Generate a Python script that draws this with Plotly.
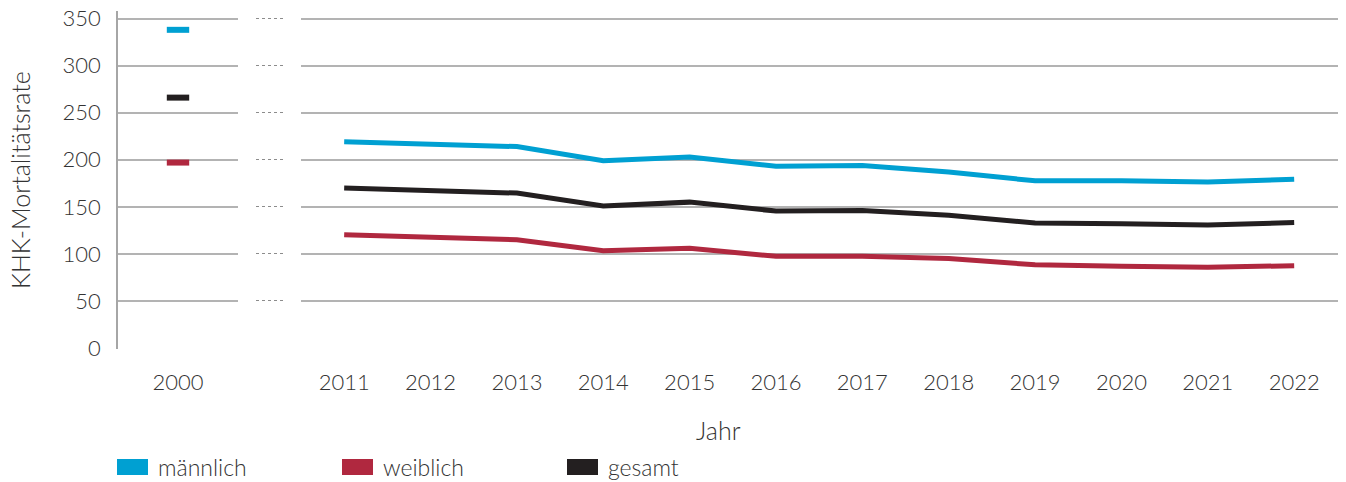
import plotly.graph_objects as go

# ---- data ----
years_main = ["2011", "2012", "2013", "2014", "2015", "2016", "2017", "2018", "2019", "2020", "2021", "2022"]
year_base = ["2000"]
maennlich = [219, 216.5, 214, 199, 203, 193, 194, 187, 177.6, 177.6, 176.3, 179.4]
weiblich = [120.4, 117.5, 115, 103.4, 106, 97.4, 97.4, 95, 88.5, 86.8, 85.7, 87.5]
gesamt = [170, 167, 164.6, 151, 155, 145.5, 146, 141, 132.8, 132, 130.6, 133.4]
maennlich_2000 = [338]
weiblich_2000 = [197]
gesamt_2000 = [266]
y_ticks = [0, 50, 100, 150, 200, 250, 300, 350]
series_names = ["männlich", "weiblich", "gesamt"]
series_colors = ["#00a0d2", "#b0283f", "#231f20"]

FONT = "Lato"
TXT = "#333333"
GRID = "#b3b3b3"
FS = 22

# page body has an 8px default margin -> compensate
OFF = 8
W, H = 1346 - OFF, 482 - OFF
PLOT_L, PLOT_T, PLOT_B = 118, 11, 349          # target window pixels
ML, MT, MB, MR = PLOT_L - OFF, PLOT_T - OFF, 482 - PLOT_B, 0
PW, PH = W - ML - MR, H - MT - MB


def xp(px):
    return (px - PLOT_L) / PW


def yp(py):
    return (PLOT_B - py) / PH


fig = go.Figure()

for name, vals, v2000, col in zip(series_names, [maennlich, weiblich, gesamt],
                                  [maennlich_2000, weiblich_2000, gesamt_2000], series_colors):
    fig.add_trace(go.Scatter(x=years_main, y=vals, mode="lines", xaxis="x3", yaxis="y3", name=name,
                             line=dict(color=col, width=5), showlegend=False, hoverinfo="skip"))
    fig.add_trace(go.Scatter(x=year_base, y=v2000, mode="markers", xaxis="x", yaxis="y", name=name,
                             marker=dict(symbol="line-ew", size=16, line=dict(color=col, width=6)),
                             showlegend=False, hoverinfo="skip"))

# empty trace for the dotted gap panel
fig.add_trace(go.Scatter(x=[], y=[], xaxis="x2", yaxis="y2", showlegend=False))

# manual legend (coloured boxes + text)
legend_x = [117, 342, 567]
shapes = []
annotations = []
for lx, name, col in zip(legend_x, series_names, series_colors):
    shapes.append(dict(type="rect", xref="paper", yref="paper", x0=xp(lx), x1=xp(lx + 31),
                       y0=yp(475), y1=yp(459), fillcolor=col, line=dict(width=0)))
    annotations.append(dict(text=name, xref="paper", yref="paper", x=xp(lx + 39), y=yp(467),
                            xanchor="left", yanchor="middle", showarrow=False,
                            font=dict(size=23, color=TXT)))

annotations += [
    dict(text="Jahr", xref="paper", yref="paper", x=xp(718), y=yp(430),
         xanchor="center", yanchor="middle", showarrow=False, font=dict(size=25, color=TXT)),
    dict(text="KHK-Mortalitätsrate", xref="paper", yref="paper", x=xp(20),
         y=yp(180), xanchor="center", yanchor="middle", textangle=-90,
         showarrow=False, font=dict(size=25, color=TXT)),
]

YR = [-1, 358]
fig.update_layout(
    width=W, height=H,
    margin=dict(l=ML, r=MR, t=MT, b=MB, autoexpand=False),
    paper_bgcolor="white", plot_bgcolor="white",
    font=dict(family=FONT, size=FS, color=TXT, weight=300),
    showlegend=False,
    xaxis=dict(domain=[0, xp(238)], type="category", range=[-0.5, 0.5],
               showgrid=False, zeroline=False, showline=False, ticks="",
               ticklabelstandoff=18, anchor="y", automargin=False, ticklabeloverflow="allow"),
    xaxis2=dict(domain=[xp(256), xp(283)], showgrid=False, range=[0, 1],
                zeroline=False, showline=False, showticklabels=False, anchor="y2", automargin=False),
    xaxis3=dict(domain=[xp(301), 1], type="category", range=[-0.5, 11.6],
                showgrid=False, zeroline=False, showline=False, ticks="",
                ticklabelstandoff=18, anchor="y3", automargin=False, ticklabeloverflow="allow"),
    yaxis=dict(range=YR, tickvals=y_ticks, showgrid=True, gridcolor=GRID, gridwidth=1.5,
               zeroline=False, showline=True, linecolor="#a6a6a6", linewidth=1.5,
               ticks="", ticklabelstandoff=11, anchor="x", automargin=False,
               ticklabeloverflow="allow"),
    yaxis2=dict(matches="y", range=YR, tickvals=y_ticks, showgrid=True, gridcolor="#8c8c8c",
                gridwidth=1, griddash="dot", zeroline=False, showline=False,
                showticklabels=False, anchor="x2", automargin=False),
    yaxis3=dict(matches="y", range=YR, tickvals=y_ticks, showgrid=True, gridcolor=GRID,
                gridwidth=1.5, zeroline=False, showline=False, showticklabels=False, anchor="x3",
                automargin=False),
    shapes=shapes,
    annotations=annotations,
)

fig.write_html("out.html")
